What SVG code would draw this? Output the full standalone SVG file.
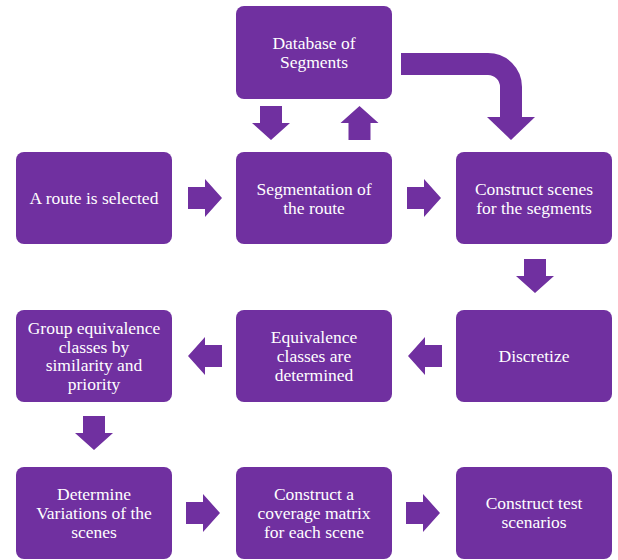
<svg xmlns="http://www.w3.org/2000/svg" xmlns:xlink="http://www.w3.org/1999/xlink" width="618" height="560" viewBox="0 0 618 560">
<style>
.box{fill:#7030A0;}
.lbl{fill:#FFFFFF;font-family:'Liberation Serif','Times New Roman',Tinos,'Noto Serif','DejaVu Serif',FreeSerif,'Nimbus Roman','Nimbus Roman No9 L',Times,serif;font-size:17.5px;text-anchor:middle;}
.arr{fill:#7030A0;}
</style>
<defs>
<path id="ar" d="M0,-11 H17 V-19 L34,0 L17,19 V11 H0 Z"/>
</defs>
<rect width="618" height="560" fill="#FFFFFF"/>
<g id="n-database">
<rect class="box" x="236" y="6" width="156" height="93" rx="8"/>
<text class="lbl" x="314" y="49">Database of</text>
<text class="lbl" x="314" y="68">Segments</text>
</g>
<g id="n-route">
<rect class="box" x="16" y="152" width="156" height="92" rx="8"/>
<text class="lbl" x="94" y="204">A route is selected</text>
</g>
<g id="n-segmentation">
<rect class="box" x="236" y="152" width="156" height="92" rx="8"/>
<text class="lbl" x="314" y="195">Segmentation of</text>
<text class="lbl" x="314" y="214">the route</text>
</g>
<g id="n-scenes">
<rect class="box" x="456" y="152" width="156" height="92" rx="8"/>
<text class="lbl" x="534" y="195">Construct scenes</text>
<text class="lbl" x="534" y="214">for the segments</text>
</g>
<g id="n-discretize">
<rect class="box" x="456" y="310" width="156" height="92" rx="8"/>
<text class="lbl" x="534" y="362">Discretize</text>
</g>
<g id="n-equivalence">
<rect class="box" x="236" y="310" width="156" height="92" rx="8"/>
<text class="lbl" x="314" y="343">Equivalence</text>
<text class="lbl" x="314" y="362">classes are</text>
<text class="lbl" x="314" y="381">determined</text>
</g>
<g id="n-group">
<rect class="box" x="16" y="310" width="156" height="92" rx="8"/>
<text class="lbl" x="94" y="334">Group equivalence</text>
<text class="lbl" x="94" y="352.5">classes by</text>
<text class="lbl" x="94" y="371">similarity and</text>
<text class="lbl" x="94" y="389.5">priority</text>
</g>
<g id="n-variations">
<rect class="box" x="16" y="467" width="156" height="92" rx="8"/>
<text class="lbl" x="94" y="500">Determine</text>
<text class="lbl" x="94" y="519">Variations of the</text>
<text class="lbl" x="94" y="538">scenes</text>
</g>
<g id="n-matrix">
<rect class="box" x="236" y="467" width="156" height="92" rx="8"/>
<text class="lbl" x="314" y="500">Construct a</text>
<text class="lbl" x="314" y="519">coverage matrix</text>
<text class="lbl" x="314" y="538">for each scene</text>
</g>
<g id="n-test">
<rect class="box" x="456" y="467" width="156" height="92" rx="8"/>
<text class="lbl" x="534" y="509">Construct test</text>
<text class="lbl" x="534" y="528">scenarios</text>
</g>
<g id="connectors" class="arr">
<use xlink:href="#ar" href="#ar" transform="translate(188,198)"/>
<use xlink:href="#ar" href="#ar" transform="translate(407,198)"/>
<use xlink:href="#ar" href="#ar" transform="translate(186,513)"/>
<use xlink:href="#ar" href="#ar" transform="translate(406,513)"/>
<use xlink:href="#ar" href="#ar" transform="translate(442,356) rotate(180)"/>
<use xlink:href="#ar" href="#ar" transform="translate(222,356) rotate(180)"/>
<use xlink:href="#ar" href="#ar" transform="translate(271,106) rotate(90)"/>
<use xlink:href="#ar" href="#ar" transform="translate(359.5,140) rotate(-90)"/>
<use xlink:href="#ar" href="#ar" transform="translate(535,259) rotate(90)"/>
<use xlink:href="#ar" href="#ar" transform="translate(94,416) rotate(90)"/>
<path d="M401,64 H488 A23 23 0 0 1 511 87 V118" fill="none" stroke="#7030A0" stroke-width="22"/>
<polygon points="487,117 535,117 511,140"/>
</g>
</svg>
